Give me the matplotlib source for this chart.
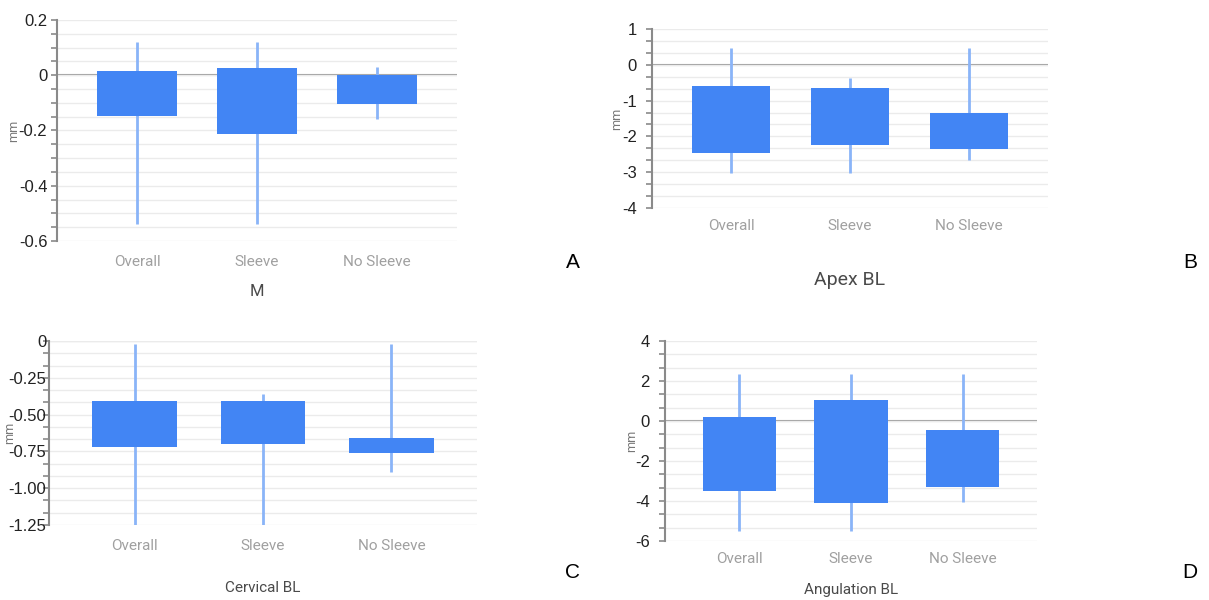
import matplotlib
matplotlib.use("Agg")
import matplotlib.pyplot as plt
from matplotlib.ticker import MultipleLocator, FixedLocator

W, H = 1209, 600

cats = ["Overall", "Sleeve", "No Sleeve"]

# box bottoms / tops and whisker ends
m_low = [-0.54, -0.54, -0.16]
m_q1 = [-0.147, -0.214, -0.105]
m_q3 = [0.017, 0.027, 0.0]
m_high = [0.12, 0.12, 0.029]

apex_low = [-3.03, -3.03, -2.67]
apex_q1 = [-2.47, -2.24, -2.36]
apex_q3 = [-0.60, -0.64, -1.36]
apex_high = [0.46, -0.38, 0.46]

cerv_low = [-1.26, -1.26, -0.89]
cerv_q1 = [-0.72, -0.70, -0.76]
cerv_q3 = [-0.405, -0.405, -0.66]
cerv_high = [-0.02, -0.36, -0.02]

ang_low = [-5.52, -5.52, -4.07]
ang_q1 = [-3.52, -4.10, -3.28]
ang_q3 = [0.22, 1.03, -0.45]
ang_high = [2.37, 2.37, 2.37]

m_ticks = [0.2, 0, -0.2, -0.4, -0.6]
m_ticklabels = ["0.2", "0", "-0.2", "-0.4", "-0.6"]
apex_ticks = [1, 0, -1, -2, -3, -4]
apex_ticklabels = ["1", "0", "-1", "-2", "-3", "-4"]
cerv_ticks = [0, -0.25, -0.5, -0.75, -1.0, -1.25]
cerv_ticklabels = ["0", "-0.25", "-0.50", "-0.75", "-1.00", "-1.25"]
ang_ticks = [4, 2, 0, -2, -4, -6]
ang_ticklabels = ["4", "2", "0", "-2", "-4", "-6"]

BAR = "#4285F4"
WHISK = "#8AB4F8"
AXIS = "#8a8a8a"
GRID = "#ebebeb"

fig = plt.figure(figsize=(W / 100, H / 100), dpi=100)


def px_axes(x0, y0, x1, y1):
    return fig.add_axes([x0 / W, 1 - y1 / H, (x1 - x0) / W, (y1 - y0) / H])


def panel(box, low, q1, q3, high, ticks, ticklabels, minor, ylim,
          ylab_x, xlab_off, title, title_y, title_size, letter, letter_xy, ypad):
    x0, y0, x1, y1 = box
    ax = px_axes(x0, y0, x1, y1)
    pos = list(range(len(cats)))
    ax.vlines(pos, low, high, color=WHISK, lw=2, zorder=2)
    ax.bar(pos, [b - a for a, b in zip(q1, q3)], bottom=q1, width=0.66,
           color=BAR, zorder=3)
    ax.axhline(0, color="#9a9a9a", lw=1.5, zorder=1.5)
    ax.set_xlim(-2 / 3, 2 + 2 / 3)
    ax.set_ylim(*ylim)
    ax.yaxis.set_major_locator(FixedLocator(ticks))
    ax.set_yticklabels(ticklabels, fontsize=12, color="#222222",
                       family="Liberation Sans")
    ax.yaxis.set_minor_locator(MultipleLocator(minor))
    ax.grid(True, which="both", axis="y", color=GRID, lw=1, zorder=0)
    ax.tick_params(axis="y", which="both", length=4, width=1.2, color=AXIS,
                   pad=ypad)
    ax.set_xticks(pos)
    ax.set_xticklabels(cats, fontsize=11, color="#a0a0a0", family="Roboto")
    ax.tick_params(axis="x", length=0, pad=xlab_off)
    for s in ["top", "right", "bottom"]:
        ax.spines[s].set_visible(False)
    ax.spines["left"].set_color(AXIS)
    ax.spines["left"].set_linewidth(1.5)
    fig.text(ylab_x / W, 1 - (y0 + y1) / 2 / H, "mm", rotation=90,
             fontsize=9, color="#777777", family="Roboto",
             ha="center", va="center")
    fig.text(((x0 + x1) / 2) / W, 1 - title_y / H, title, fontsize=title_size,
             color="#4a4a4a", family="Roboto", ha="center", va="center")
    fig.text(letter_xy[0] / W, 1 - letter_xy[1] / H, letter, fontsize=15,
             color="black", family="Liberation Sans", ha="center", va="center")
    return ax


panel((57, 20, 457, 241), m_low, m_q1, m_q3, m_high, m_ticks, m_ticklabels,
      0.05, (-0.6, 0.2), 14, 10, "M", 291, 12, "A", (573, 263), 3)
panel((652, 29, 1048, 208), apex_low, apex_q1, apex_q3, apex_high,
      apex_ticks, apex_ticklabels, 1 / 3, (-4, 1), 617, 8, "Apex BL", 280, 14,
      "B", (1190, 263), 7)
panel((49, 341, 477, 525), cerv_low, cerv_q1, cerv_q3, cerv_high,
      cerv_ticks, cerv_ticklabels, 0.25 / 3, (-1.25, 0), 10, 10, "Cervical BL",
      588, 11, "C", (573, 573), -2)
panel((665, 341, 1037, 541), ang_low, ang_q1, ang_q3, ang_high,
      ang_ticks, ang_ticklabels, 2 / 3, (-6, 4), 632, 8, "Angulation BL",
      590, 11, "D", (1190, 573), 7)

fig.savefig("out.png", dpi=100, facecolor="white")
